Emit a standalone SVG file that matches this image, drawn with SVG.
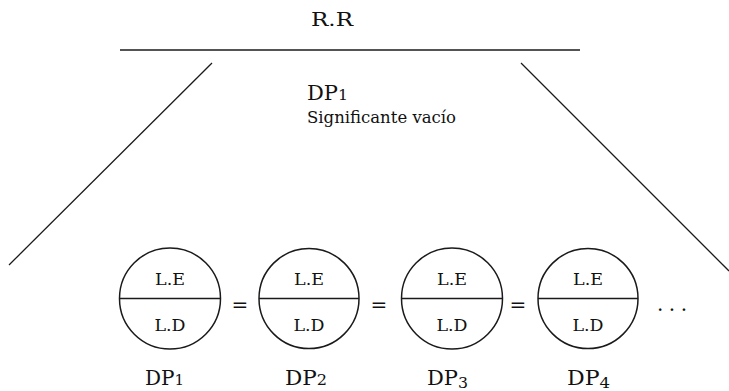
<svg xmlns="http://www.w3.org/2000/svg" width="729" height="391" viewBox="0 0 729 391">
<style>
text{font-family:"DejaVu Serif","Liberation Serif",serif;fill:#111}
.ln{stroke:#1a1a1a;stroke-width:1.3;fill:none}
.c{stroke:#1a1a1a;stroke-width:1.5;fill:#fff}
.in{font-size:17px;text-anchor:middle}
.dp{font-size:20px}
.sub{font-size:15px}
.eq{font-size:20px;text-anchor:middle}
</style>
<rect width="729" height="391" fill="#fff"/>
<g id="connectors">
<line class="ln" x1="120" y1="50" x2="580" y2="50" stroke-width="1.6"/>
<line class="ln" x1="212" y1="63" x2="9" y2="265"/>
<line class="ln" x1="521" y1="63" x2="729" y2="271"/>
</g>
<g id="title"><text x="332" y="26" font-size="18" text-anchor="middle" textLength="42" lengthAdjust="spacingAndGlyphs">R.R</text></g>
<g id="dp-top">
<text x="307" y="100" class="dp" textLength="41" lengthAdjust="spacingAndGlyphs">DP<tspan class="sub">1</tspan></text>
<text x="307" y="123" font-size="17" textLength="149" lengthAdjust="spacingAndGlyphs">Significante vacío</text>
</g>
<g id="dp1">
<circle class="c" cx="170" cy="298.5" r="50.5"/>
<line class="ln" x1="119.5" y1="298.5" x2="220.5" y2="298.5" stroke-width="1.5"/>
<text class="in" x="170" y="285" textLength="30" lengthAdjust="spacingAndGlyphs">L.E</text>
<text class="in" x="170" y="331" textLength="31" lengthAdjust="spacingAndGlyphs">L.D</text>
<text class="dp" x="164.5" y="385" text-anchor="middle" textLength="39" lengthAdjust="spacingAndGlyphs">DP<tspan class="sub">1</tspan></text>
</g>
<g id="dp2">
<circle class="c" cx="309" cy="298.5" r="50"/>
<line class="ln" x1="259" y1="298.5" x2="359" y2="298.5" stroke-width="1.5"/>
<text class="in" x="309" y="285" textLength="30" lengthAdjust="spacingAndGlyphs">L.E</text>
<text class="in" x="309" y="331" textLength="31" lengthAdjust="spacingAndGlyphs">L.D</text>
<text class="dp" x="306" y="385" text-anchor="middle" textLength="42" lengthAdjust="spacingAndGlyphs">DP<tspan class="sub">2</tspan></text>
</g>
<g id="dp3">
<circle class="c" cx="452" cy="298.5" r="50.5"/>
<line class="ln" x1="401.5" y1="298.5" x2="502.5" y2="298.5" stroke-width="1.5"/>
<text class="in" x="452" y="285" textLength="30" lengthAdjust="spacingAndGlyphs">L.E</text>
<text class="in" x="452" y="331" textLength="31" lengthAdjust="spacingAndGlyphs">L.D</text>
<text class="dp" x="447.5" y="385" text-anchor="middle" textLength="41" lengthAdjust="spacingAndGlyphs">DP<tspan class="sub" dy="3">3</tspan></text>
</g>
<g id="dp4">
<circle class="c" cx="588" cy="298.5" r="50"/>
<line class="ln" x1="538" y1="298.5" x2="638" y2="298.5" stroke-width="1.5"/>
<text class="in" x="588" y="285" textLength="30" lengthAdjust="spacingAndGlyphs">L.E</text>
<text class="in" x="588" y="331" textLength="31" lengthAdjust="spacingAndGlyphs">L.D</text>
<text class="dp" x="588.5" y="385" text-anchor="middle" textLength="43" lengthAdjust="spacingAndGlyphs">DP<tspan class="sub" dy="3">4</tspan></text>
</g>
<g id="equals">
<text class="eq" x="240" y="312">=</text>
<text class="eq" x="379" y="312">=</text>
<text class="eq" x="518" y="312">=</text>
<text x="657" y="311" font-size="20" textLength="30" lengthAdjust="spacing">. . .</text>
</g>
</svg>
